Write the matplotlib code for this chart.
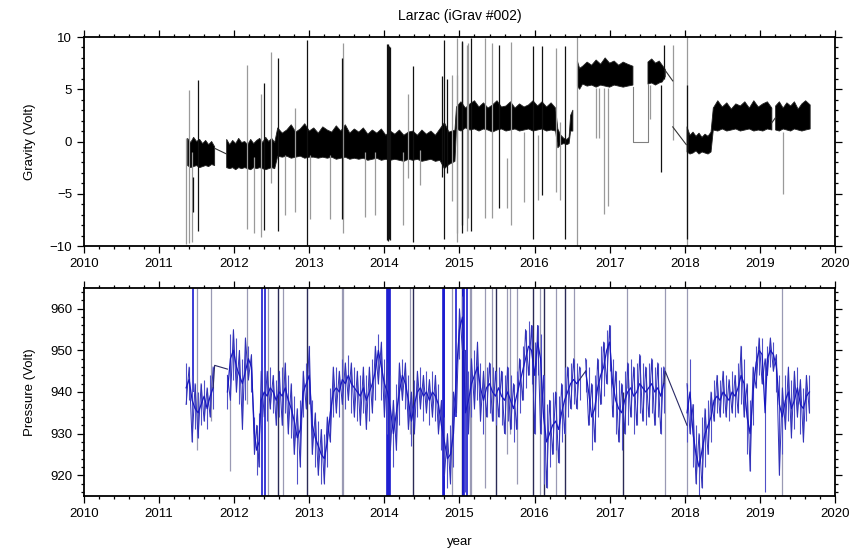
import numpy as np
import matplotlib
matplotlib.use("Agg")
import matplotlib.pyplot as plt
from matplotlib.ticker import MultipleLocator

nan = float('nan')

# ---------------- Gravity (Volt) : band envelope of the tidal signal ----------------
g_t = [2011.38, 2011.42, 2011.46, 2011.50, 2011.54, 2011.58, 2011.62, 2011.66, 2011.70, 2011.74, nan,
       2011.90, 2011.94, 2011.98, 2012.02, 2012.06, 2012.10, 2012.14, 2012.18, 2012.22, 2012.26, 2012.30,
       2012.34, 2012.38, 2012.42, 2012.46, 2012.50, 2012.54, 2012.58,
       2012.64, 2012.70, 2012.76, 2012.82, 2012.88, 2012.94, 2013.00, 2013.06, 2013.12, 2013.18,
       2013.24, 2013.30, 2013.36, 2013.42, 2013.48, 2013.54, 2013.60, 2013.66, 2013.72, 2013.78, 2013.84,
       2013.90, 2013.96, 2014.02, 2014.08, 2014.14, 2014.20, 2014.26, 2014.32, 2014.38, 2014.44, 2014.50,
       2014.56, 2014.62, 2014.68, 2014.74, 2014.80, 2014.86, 2014.94,
       2014.96, 2015.02, 2015.08, 2015.14, 2015.20, 2015.26, 2015.32, 2015.38, 2015.44, 2015.50, 2015.56,
       2015.62, 2015.68, 2015.74, 2015.80, 2015.86, 2015.92, 2015.98, 2016.04, 2016.10, 2016.16, 2016.22,
       2016.28, 2016.31, 2016.35, 2016.39, 2016.43, 2016.46, 2016.48, 2016.51, nan,
       2016.57, 2016.60, 2016.64, 2016.70, 2016.76, 2016.82, 2016.88, 2016.94, 2017.00, 2017.06, 2017.12,
       2017.18, 2017.24, 2017.31, nan,
       2017.51, 2017.56, 2017.61, 2017.66, 2017.70, 2017.74, nan,
       2018.03, 2018.07, 2018.11, 2018.15, 2018.19, 2018.23, 2018.27, 2018.31, 2018.35, 2018.38,
       2018.44, 2018.50, 2018.56, 2018.62, 2018.68, 2018.74, 2018.80, 2018.86, 2018.92, 2018.98,
       2019.04, 2019.10, 2019.16, nan,
       2019.21, 2019.26, 2019.31, 2019.36, 2019.41, 2019.46, 2019.51, 2019.56, 2019.61, 2019.67]
g_hi = [0.3, -0.1, 0.4, 0.0, 0.2, -0.2, 0.1, -0.3, 0.0, -0.5, nan,
        0.2, -0.3, 0.1, -0.2, 0.3, -0.1, 0.0, -0.3, 0.2, -0.2, 0.1,
        0.3, -0.1, 0.4, 0.0, 0.3, -0.1, 1.3,
        0.8, 1.1, 1.6, 0.9, 1.2, 1.7, 1.0, 1.3, 0.8, 1.4,
        1.1, 0.9, 1.5, 1.0, 1.6, 0.8, 1.2, 0.9, 1.3, 0.7, 1.1,
        0.8, 1.2, 0.6, 1.0, 0.7, 1.1, 0.6, 0.9, 1.0, 0.6, 1.1,
        0.7, 1.0, 0.6, 1.2, 1.8, 0.9, 1.1,
        3.3, 3.8, 3.2, 3.6, 3.9, 3.3, 3.7, 3.2, 3.5, 3.9, 3.3,
        3.4, 3.8, 3.2, 3.6, 3.3, 3.5, 3.9, 3.4, 3.8, 3.3, 3.7,
        3.2, 1.2, 0.6, 0.3, 0.2, 0.4, 2.5, 3.0, nan,
        7.7, 7.0, 7.2, 7.6, 7.3, 7.8, 7.4, 8.0, 7.5, 7.7, 7.3,
        7.6, 7.4, 7.2, nan,
        7.6, 7.9, 7.5, 7.7, 7.3, 6.9, nan,
        1.4, 0.6, 0.9, 0.5, 0.8, 0.4, 0.7, 0.5, 0.9, 3.2,
        3.9, 3.3, 3.7, 3.1, 3.6, 3.4, 3.8, 3.2, 3.9, 3.3,
        3.6, 3.8, 3.2, nan,
        3.4, 3.8, 3.2, 3.7, 3.4, 3.8, 3.1, 3.6, 3.9, 3.5]
g_lo = [-2.3, -2.5, -2.4, -2.3, -2.5, -2.4, -2.3, -2.4, -2.2, -2.3, nan,
        -2.5, -2.6, -2.5, -2.7, -2.5, -2.6, -2.5, -2.6, -2.7, -2.5, -2.6,
        -2.5, -2.6, -2.7, -2.6, -2.5, -2.6, -1.4,
        -1.5, -1.4, -1.6, -1.5, -1.4, -1.6, -1.5, -1.5, -1.6, -1.5,
        -1.6, -1.5, -1.7, -1.6, -1.5, -1.7, -1.6, -1.7, -1.6, -1.8, -1.7,
        -1.6, -1.8, -1.7, -1.8, -1.7, -1.8, -1.9, -1.7, -1.8, -1.7, -1.9,
        -1.8, -1.7, -1.9, -1.8, -2.6, -2.2, -1.9,
        1.2, 1.0, 1.3, 1.1, 1.2, 1.0, 1.2, 1.1, 0.9, 1.1, 1.2,
        1.0, 1.1, 1.2, 1.0, 1.1, 1.2, 1.0, 1.1, 1.2, 1.0, 1.1,
        1.0, -0.6, -0.3, -0.2, -0.3, -0.2, 1.0, 1.0, nan,
        5.3, 5.0, 5.5, 5.3, 5.4, 5.2, 5.4, 5.3, 5.2, 5.4, 5.3,
        5.2, 5.3, 5.4, nan,
        5.5, 5.6, 5.4, 5.6, 5.7, 6.2, nan,
        -1.0, -1.2, -1.1, -0.9, -1.2, -1.0, -1.1, -1.2, -1.0, 1.1,
        1.0, 1.2, 1.0, 1.1, 1.2, 1.0, 1.1, 1.2, 1.0, 1.1,
        1.0, 1.2, 1.1, nan,
        1.1, 1.0, 1.2, 1.1, 1.0, 1.2, 1.1, 1.0, 1.1, 1.2]

# connecting lines across data gaps
g_link_t = [2011.74, 2011.90, nan, 2017.74, 2017.84, nan, 2017.84, 2018.02, nan, 2019.16, 2019.21]
g_link_v = [-0.65, -1.2, nan, 6.8, 5.8, nan, 1.4, -0.3, nan, 1.8, 2.3]
g_flat_t = [2017.31, 2017.31, 2017.51, 2017.51]
g_flat_v = [5.2, 0.0, 0.0, 5.5]

# spikes (black)
gsb_t = [2011.456, 2011.523, 2012.401, 2012.579, 2012.974, 2013.431, 2014.030, 2014.042, 2014.053,
         2014.064, 2014.075, 2014.385, 2014.762, 2014.798, 2014.830, 2015.030, 2015.040, 2015.160,
         2015.530, 2015.983, 2016.094, 2016.404, 2017.678, 2017.727, 2018.024]
gsb_lo = [-6.7, -8.6, -8.5, -8.6, -9.9, -7.4, -9.4, -9.5, -9.4, -9.3, -9.4, -9.6, -3.4, -9.3, -3.0,
          -8.0, -8.8, -8.6, -6.4, -9.3, -5.1, -9.3, -2.9, 6.0, -9.3]
gsb_hi = [-3.4, 5.9, 5.6, 8.0, 9.7, 8.0, 9.3, 9.2, 9.3, 9.1, 9.0, 7.2, 6.3, 9.7, 6.0,
          9.6, 9.55, 9.9, 9.2, 9.1, 9.1, 9.1, 5.4, 9.2, 5.4]
# spikes (grey)
gsg_t = [2011.358, 2011.398, 2011.434, 2012.166, 2012.268, 2012.357, 2012.490, 2012.677, 2012.810,
         2013.009, 2013.276, 2013.453, 2013.742, 2013.875, 2014.243, 2014.320, 2014.474, 2014.896,
         2014.962, 2014.970, 2015.100, 2015.117, 2015.339, 2015.428, 2015.628, 2015.685, 2015.858,
         2016.050, 2016.284, 2016.338, 2016.560, 2016.817, 2016.862, 2016.928, 2016.981, 2017.536,
         2017.838, 2018.024, 2019.303]
gsg_lo = [-9.8, -9.7, -9.6, -8.4, -8.8, -9.1, -4.0, -7.0, -6.7, -7.4, -7.4, -8.8, -7.2, -7.0, -8.0,
          -3.5, -4.2, -5.7, -9.6, -8.8, -8.6, -7.35, -7.35, -7.35, -6.4, -8.0, -5.75, -5.6, -4.8,
          -5.6, -10.0, 0.3, 0.3, -6.9, -6.2, 2.2, 0.1, -10.0, -5.0]
gsg_hi = [0.3, 4.9, -1.0, 7.3, -1.5, 4.5, 8.6, -1.3, 3.2, -1.3, -1.3, 9.4, -1.0, -1.0, -1.0, 4.5,
          -0.8, 6.4, 6.4, 9.9, 9.2, 9.4, 9.9, 9.4, -1.6, 9.55, 0.9, 0.6, 8.9, 1.9, 10.0, 5.1, 5.1,
          5.1, 5.1, 5.4, 9.2, 10.0, 0.9]

# ---------------- Pressure (Volt) ----------------
p_t = [2011.36, 2011.40, 2011.44, 2011.48, 2011.52, 2011.56, 2011.60, 2011.64, 2011.68, 2011.72, nan,
       2011.91, 2011.95, 2011.99, 2012.03, 2012.07, 2012.11, 2012.15, 2012.19, 2012.23,
       2012.27, 2012.30, 2012.33, 2012.36, 2012.40, 2012.44, 2012.48, 2012.52, 2012.56, 2012.60,
       2012.64, 2012.68, 2012.72, 2012.76, 2012.80, 2012.84, 2012.88, 2012.92, 2012.96, 2013.00,
       2013.04, 2013.08, 2013.12, 2013.16, 2013.20, 2013.24,
       2013.28, 2013.32, 2013.36, 2013.40, 2013.44, 2013.48, 2013.52, 2013.56, 2013.60, 2013.64,
       2013.68, 2013.72, 2013.76, 2013.80, 2013.84, 2013.88, 2013.92, 2013.96, 2014.00, 2014.04,
       2014.08, 2014.12, 2014.16, 2014.20,
       2014.24, 2014.28, 2014.32, 2014.36, 2014.40, 2014.44, 2014.48, 2014.52, 2014.56, 2014.60,
       2014.64, 2014.68, 2014.72,
       2014.76, 2014.80, 2014.84, 2014.88, 2014.92, 2014.96, 2015.00, 2015.04, 2015.08,
       2015.12, 2015.16, 2015.20, 2015.24, 2015.28, 2015.32, 2015.36, 2015.40, 2015.44, 2015.48,
       2015.52, 2015.56, 2015.60, 2015.64, 2015.68, 2015.72, 2015.76, 2015.80, 2015.84, 2015.88,
       2015.92, 2015.96, 2016.00,
       2016.04, 2016.08, 2016.12, 2016.16, 2016.20, 2016.24, 2016.28, 2016.32, 2016.36, 2016.40,
       2016.44, 2016.48, 2016.52, 2016.56, 2016.60, nan,
       2016.68, 2016.72, 2016.76, 2016.80, 2016.84, 2016.88, 2016.92, 2016.96, 2017.00, 2017.04,
       2017.08, 2017.12, 2017.16, 2017.20, 2017.24, 2017.28, 2017.32, 2017.36, 2017.40, 2017.44,
       2017.48, 2017.52, 2017.56, 2017.60, 2017.64, 2017.68, 2017.72, nan,
       2018.03, 2018.07, 2018.11, 2018.15, 2018.19, 2018.23, 2018.27, 2018.31, 2018.35, 2018.39,
       2018.43, 2018.47, 2018.51, 2018.55, 2018.59, 2018.63, 2018.67, 2018.71, 2018.75, 2018.79,
       2018.83, 2018.87, 2018.91, 2018.95, 2018.99, 2019.03, 2019.07,
       2019.10, 2019.14, 2019.18, 2019.22, 2019.26, 2019.30, 2019.34, 2019.38, 2019.42, 2019.46,
       2019.50, 2019.54, 2019.58, 2019.62, 2019.66]
p_mid = [941, 943, 938, 936, 935, 937, 939, 936, 939, 941, nan,
         940, 948, 950, 946, 944, 942, 945, 948, 946,
         930, 926, 928, 938, 940, 939, 941, 940, 938, 940,
         939, 941, 938, 936, 933, 929, 931, 940, 942, 944,
         932, 929, 927, 925, 924, 928,
         935, 940, 941, 940, 943, 942, 944, 942, 941, 940,
         939, 941, 938, 940, 942, 945, 950, 946, 942, 940,
         936, 930, 935, 940,
         944, 942, 938, 933, 937, 940, 941, 939, 940, 938,
         940, 939, 937,
         932, 928, 924, 925, 930, 945, 955, 958, 935,
         938, 942, 944, 946, 941, 938, 941, 942, 940, 939,
         941, 939, 938, 940, 938, 936, 939, 942, 945, 948,
         951, 950, 944,
         952, 948, 934, 928, 930, 932, 933, 931, 935, 938,
         940, 942, 943, 942, 943, nan,
         945, 940, 934, 936, 941, 944, 946, 950, 952, 942,
         938, 936, 935, 938, 940, 941, 939, 940, 942, 941,
         940, 941, 942, 940, 941, 939, 942, nan,
         935, 940, 930, 925, 922, 926, 930, 932, 934, 938,
         939, 938, 940, 939, 938, 940, 939, 941, 944, 942,
         934, 930, 940, 947, 950, 949, 935,
         948, 950, 949, 946, 937, 934, 938, 940, 936, 938,
         941, 937, 936, 939, 940]
p_lo = [937, 938, 928, 931, 929, 932, 933, 931, 934, 936, nan,
        936, 938, 943, 940, 937, 931, 938, 943, 940,
        925, 920, 922, 932, 934, 933, 936, 935, 932, 934,
        932, 935, 930, 929, 925, 918, 922, 934, 936, 937,
        925, 922, 920, 918, 918, 922,
        928, 934, 935, 934, 937, 936, 938, 935, 934, 933,
        932, 935, 931, 933, 935, 938, 942, 938, 934, 930,
        926, 922, 926, 932,
        938, 936, 931, 927, 930, 934, 936, 933, 935, 932,
        934, 933, 930,
        926, 920, 917, 918, 922, 935, 948, 950, 916,
        930, 934, 936, 938, 933, 930, 934, 935, 933, 932,
        934, 932, 930, 933, 931, 928, 931, 935, 938, 941,
        944, 942, 930,
        944, 930, 918, 917, 922, 925, 926, 923, 928, 930,
        934, 936, 937, 936, 938, nan,
        940, 932, 926, 928, 934, 937, 939, 942, 945, 934,
        930, 928, 926, 930, 932, 934, 930, 932, 935, 933,
        932, 934, 935, 932, 934, 930, 935, nan,
        928, 930, 922, 918, 915, 917, 922, 925, 928, 933,
        935, 934, 935, 934, 933, 935, 934, 935, 937, 934,
        925, 921, 932, 941, 944, 942, 916,
        944, 946, 945, 940, 920, 925, 931, 933, 929, 931,
        934, 930, 928, 933, 935]
p_hi = [947, 946, 944, 942, 940, 942, 943, 941, 944, 946, nan,
        944, 954, 955, 953, 950, 948, 953, 951, 949,
        934, 932, 935, 945, 946, 945, 946, 944, 943, 945,
        946, 947, 944, 942, 939, 936, 938, 945, 947, 951,
        938, 935, 933, 931, 930, 934,
        941, 946, 946, 945, 948, 947, 949, 947, 946, 945,
        944, 946, 944, 946, 948, 951, 954, 952, 948, 947,
        944, 938, 942, 947,
        948, 947, 944, 940, 943, 945, 946, 944, 945, 943,
        945, 944, 942,
        938, 934, 930, 932, 940, 953, 960, 963, 950,
        945, 948, 950, 952, 947, 945, 946, 947, 946, 945,
        946, 945, 944, 946, 944, 942, 945, 948, 951, 955,
        957, 956, 952,
        956, 954, 944, 937, 938, 940, 940, 939, 942, 946,
        946, 947, 948, 947, 946, nan,
        948, 946, 942, 944, 948, 951, 952, 955, 956, 948,
        945, 943, 942, 945, 947, 948, 946, 947, 949, 947,
        946, 947, 948, 946, 947, 946, 946, nan,
        942, 948, 937, 932, 930, 934, 936, 938, 940, 943,
        944, 943, 945, 944, 943, 945, 944, 947, 951, 948,
        942, 938, 946, 951, 953, 953, 948,
        951, 953, 952, 949, 944, 941, 944, 946, 943, 945,
        946, 943, 941, 944, 944]
p_link_t = [2011.72, 2011.74, 2011.91, nan, 2016.60, 2016.68, nan, 2017.72, 2017.74, 2018.03]
p_link_v = [941, 946.4, 945.5, nan, 943, 945, nan, 942, 945, 932]

# pressure spikes
psd_t = [2012.578, 2012.974, 2014.385, 2015.030, 2015.490, 2015.980, 2016.120, 2016.400, 2017.180]
psd_lo = [915, 915, 915, 915, 915, 915, 915, 915, 915]
psd_hi = [965, 965, 965, 965, 965, 965, 965, 965, 940]
psb_t = [2011.456, 2012.366, 2012.410, 2014.040, 2014.050, 2014.060, 2014.070, 2014.780, 2014.790,
         2014.800, 2014.960, 2015.050, 2015.060, 2015.100]
psb_lo = [940, 915, 915, 915, 915, 915, 915, 915, 915, 915, 934, 915, 915, 915]
psb_hi = [965, 965, 965, 965, 965, 965, 965, 965, 965, 965, 965, 965, 965, 965]
psg_t = [2011.509, 2011.687, 2011.940, 2012.166, 2012.455, 2012.654, 2013.431, 2013.453, 2014.340,
         2014.895, 2015.140, 2015.160, 2015.340, 2015.430, 2015.630, 2015.670, 2015.760, 2016.070,
         2016.280, 2016.520, 2017.230, 2017.740, 2018.030, 2019.300]
psg_lo = [926, 933, 921, 937, 915, 915, 915, 915, 930, 915, 915, 915, 917, 933, 925, 930, 918, 915,
          915, 939, 941, 915, 915, 915]
psg_hi = [965, 965, 940, 965, 965, 965, 965, 965, 965, 965, 965, 965, 965, 965, 965, 965, 965, 965,
          965, 965, 965, 965, 965, 965]

x_ticks = [2010, 2011, 2012, 2013, 2014, 2015, 2016, 2017, 2018, 2019, 2020]

plt.rcParams['font.family'] = ['Liberation Sans', 'DejaVu Sans']
plt.rcParams['font.size'] = 9.5

fig = plt.figure(figsize=(8.5, 5.49), dpi=100)
ax1 = fig.add_axes([0.0988, 0.5519, 0.8835, 0.3807])
ax2 = fig.add_axes([0.0988, 0.0965, 0.8835, 0.379])

# gravity
ax1.vlines(gsg_t, gsg_lo, gsg_hi, color='#9a9a9a', lw=0.9)
ax1.vlines(gsb_t, gsb_lo, gsb_hi, color='#111111', lw=0.9)
ax1.fill_between(g_t, g_lo, g_hi, color='black', lw=0.6, edgecolor='#222222')
ax1.plot(g_link_t, g_link_v, color='#333333', lw=0.8)
ax1.plot(g_flat_t, g_flat_v, color='#808080', lw=0.8)

# pressure
pt = np.array(p_t, dtype=float)
plo = np.array(p_lo, dtype=float)
phi = np.array(p_hi, dtype=float)
zig = np.where(np.arange(len(pt)) % 2 == 0, plo, phi)
ax2.vlines(psg_t, psg_lo, psg_hi, color='#9a9ab4', lw=0.9)
ax2.vlines(psd_t, psd_lo, psd_hi, color='#2a2a55', lw=1.0)
ax2.vlines(psb_t, psb_lo, psb_hi, color='#1a1ad0', lw=1.2)
ax2.vlines(pt, plo, phi, color='#5050c8', lw=0.8)
ax2.plot(pt, zig, color='#3030b8', lw=0.7)
ax2.plot(pt, p_mid, color='#1818c0', lw=0.9)
ax2.plot(p_link_t, p_link_v, color='#2a2a66', lw=0.8)

for ax in (ax1, ax2):
    ax.set_xlim(2010, 2020)
    ax.set_xticks(x_ticks)
    ax.set_xticklabels([str(v) for v in x_ticks])
    ax.xaxis.set_minor_locator(MultipleLocator(0.2))
    ax.tick_params(which='both', direction='out', top=True, right=True, labelsize=9.5, width=0.9)
    ax.tick_params(which='major', length=5)
    ax.tick_params(which='minor', length=2.5)
    for s in ax.spines.values():
        s.set_linewidth(1.3)

ax1.set_ylim(-10, 10)
ax1.yaxis.set_major_locator(MultipleLocator(5))
ax1.yaxis.set_minor_locator(MultipleLocator(1))
ax1.set_ylabel('Gravity (Volt)', fontsize=9.5, labelpad=10)
ax1.set_title('Larzac (iGrav #002)', fontsize=10, pad=12)

ax2.set_ylim(915, 965)
ax2.yaxis.set_major_locator(MultipleLocator(10))
ax2.yaxis.set_minor_locator(MultipleLocator(2))
ax2.set_ylabel('Pressure (Volt)', fontsize=9.5, labelpad=10)
ax2.set_xlabel('year', fontsize=9.5, labelpad=12)

fig.savefig('out.png', dpi=100)
